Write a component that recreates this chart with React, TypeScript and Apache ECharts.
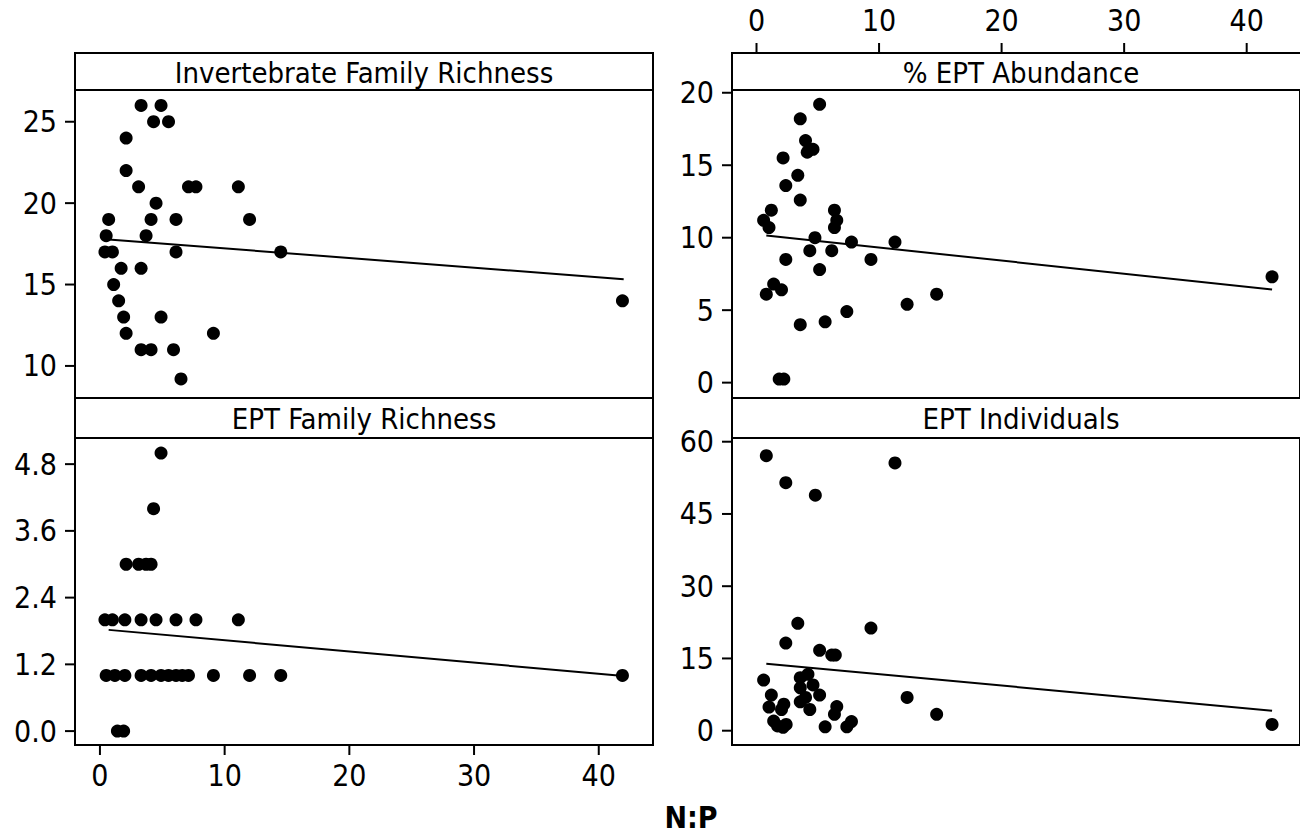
import React, { useEffect, useRef } from "react";
import * as echarts from "echarts";

// N:P ratio ticks shared by all four panels
const npTicks = [0, 10, 20, 30, 40];

// Invertebrate Family Richness
const richnessX = [3.3, 4.9, 4.3, 5.5, 2.1, 2.1, 3.1, 7.1, 7.7, 11.1, 4.5, 0.7, 4.1, 6.1, 12.0, 0.5, 3.7, 0.4, 1.0, 6.1, 14.5, 1.7, 3.3, 1.1, 1.5, 41.9, 1.9, 4.9, 2.1, 9.1, 3.3, 4.1, 5.9, 6.5];
const richnessY = [26, 26, 25, 25, 24, 22, 21, 21, 21, 21, 20, 19, 19, 19, 19, 18, 18, 17, 17, 17, 17, 16, 16, 15, 14, 14, 13, 13, 12, 12, 11, 11, 11, 9.2];
const richnessFitX = [0.7, 42.0];
const richnessFitY = [17.77, 15.33];
const richnessTicks = [10, 15, 20, 25];

// % EPT Abundance
const abundanceX = [5.15, 3.57, 4.0, 4.61, 4.14, 2.17, 3.37, 2.39, 3.57, 1.21, 6.36, 0.58, 6.55, 1.02, 6.36, 4.77, 7.75, 11.3, 4.35, 6.14, 2.39, 9.34, 5.15, 42.07, 1.4, 2.04, 0.8, 14.7, 12.29, 7.37, 5.6, 3.57, 1.85, 2.23];
const abundanceY = [19.2, 18.2, 16.7, 16.1, 15.9, 15.5, 14.3, 13.6, 12.6, 11.9, 11.9, 11.2, 11.2, 10.7, 10.7, 10.0, 9.7, 9.7, 9.1, 9.1, 8.5, 8.5, 7.8, 7.3, 6.8, 6.4, 6.1, 6.1, 5.4, 4.9, 4.2, 4.0, 0.25, 0.25];
const abundanceFitX = [0.8, 42.07];
const abundanceFitY = [10.15, 6.43];
const abundanceTicks = [0, 5, 10, 15, 20];

// EPT Family Richness
const eptRichnessX = [4.9, 4.3, 2.1, 3.1, 3.7, 4.1, 0.4, 1.0, 2.0, 3.3, 4.5, 6.1, 7.7, 11.1, 0.5, 1.2, 2.0, 3.3, 4.1, 4.9, 5.5, 6.1, 6.6, 7.1, 9.1, 12.0, 14.5, 41.9, 1.4, 1.9];
const eptRichnessY = [5, 4, 3, 3, 3, 3, 2, 2, 2, 2, 2, 2, 2, 2, 1, 1, 1, 1, 1, 1, 1, 1, 1, 1, 1, 1, 1, 1, 0, 0];
const eptRichnessFitX = [0.7, 42.0];
const eptRichnessFitY = [1.82, 0.99];
const eptRichnessTicks = [0, 1.2, 2.4, 3.6, 4.8];

// EPT Individuals
const individualsX = [0.8, 11.3, 2.39, 4.8, 3.37, 9.34, 2.39, 5.15, 6.14, 6.43, 0.58, 4.2, 3.57, 4.61, 3.57, 1.21, 5.15, 4.0, 12.29, 3.57, 2.23, 1.02, 6.55, 2.04, 4.35, 6.36, 14.7, 1.4, 7.75, 2.42, 1.72, 2.17, 5.6, 7.37, 42.07];
const individualsY = [57.1, 55.6, 51.5, 48.9, 22.3, 21.3, 18.2, 16.7, 15.7, 15.7, 10.5, 11.7, 11.0, 9.5, 8.9, 7.4, 7.4, 6.9, 6.9, 6.0, 5.5, 4.9, 5.0, 4.4, 4.4, 3.4, 3.4, 2.0, 1.9, 1.3, 1.0, 0.7, 0.8, 0.8, 1.3];
const individualsFitX = [0.8, 42.07];
const individualsFitY = [13.9, 4.15];
const individualsTicks = [0, 15, 30, 45, 60];

const FONT = '"DejaVu Sans Condensed", "DejaVu Sans", sans-serif';
const X_MIN = -2;
const X_MAX = 44.35;
const TICK_LEN = 10;

type Panel = {
  title: string;
  xs: number[];
  ys: number[];
  fitX: number[];
  fitY: number[];
  ticks: number[];
  yMin: number;
  yMax: number;
  left: number;
  top: number;
  height: number;
  stripTop: number;
  xAxisPos: "top" | "bottom" | "none";
  decimals: number;
};

const PANEL_W = 578;

const panels: Panel[] = [
  { title: "Invertebrate Family Richness", xs: richnessX, ys: richnessY, fitX: richnessFitX, fitY: richnessFitY, ticks: richnessTicks, yMin: 8.03, yMax: 26.95, left: 75, top: 90, height: 308, stripTop: 53, xAxisPos: "none", decimals: 0 },
  { title: "% EPT Abundance", xs: abundanceX, ys: abundanceY, fitX: abundanceFitX, fitY: abundanceFitY, ticks: abundanceTicks, yMin: -1.06, yMax: 20.19, left: 732, top: 90, height: 308, stripTop: 53, xAxisPos: "top", decimals: 0 },
  { title: "EPT Family Richness", xs: eptRichnessX, ys: eptRichnessY, fitX: eptRichnessFitX, fitY: eptRichnessFitY, ticks: eptRichnessTicks, yMin: -0.25, yMax: 5.27, left: 75, top: 438, height: 307, stripTop: 398, xAxisPos: "bottom", decimals: 1 },
  { title: "EPT Individuals", xs: individualsX, ys: individualsY, fitX: individualsFitX, fitY: individualsFitY, ticks: individualsTicks, yMin: -2.97, yMax: 60.77, left: 732, top: 438, height: 307, stripTop: 398, xAxisPos: "none", decimals: 0 },
];

function buildOption() {
  const grid: any[] = [];
  const xAxis: any[] = [];
  const yAxis: any[] = [];
  const series: any[] = [];
  const graphic: any[] = [];

  panels.forEach((p, i) => {
    const stripH = p.top - p.stripTop;
    grid.push({
      left: p.left,
      top: p.top,
      width: PANEL_W,
      height: p.height,
      show: true,
      borderColor: "#000",
      borderWidth: 2,
      backgroundColor: "transparent",
    });
    const showX = p.xAxisPos !== "none";
    xAxis.push({
      type: "value",
      gridIndex: i,
      min: X_MIN,
      max: X_MAX,
      position: p.xAxisPos === "top" ? "top" : "bottom",
      offset: p.xAxisPos === "top" ? stripH : 0,
      axisLine: { show: false },
      splitLine: { show: false },
      axisTick: { show: false },
      axisLabel: {
        show: showX,
        customValues: npTicks,
        color: "#000",
        fontFamily: FONT,
        fontSize: 30,
        margin: p.xAxisPos === "top" ? 18 : 15,
      },
    });
    yAxis.push({
      type: "value",
      gridIndex: i,
      min: p.yMin,
      max: p.yMax,
      position: "left",
      axisLine: { show: false },
      splitLine: { show: false },
      axisTick: { show: false },
      axisLabel: {
        customValues: p.ticks,
        color: "#000",
        fontFamily: FONT,
        fontSize: 30,
        margin: 18,
        formatter: (v: number) => v.toFixed(p.decimals),
      },
    });

    // outward y ticks on the left edge of the panel
    series.push({
      type: "custom",
      xAxisIndex: i,
      yAxisIndex: i,
      silent: true,
      clip: false,
      data: p.ticks.map((v) => [X_MIN, v]),
      renderItem: (_params: any, api: any) => {
        const pt = api.coord([api.value(0), api.value(1)]);
        return {
          type: "line",
          shape: { x1: pt[0] - TICK_LEN, y1: pt[1], x2: pt[0], y2: pt[1] },
          style: { stroke: "#000", lineWidth: 2 },
        };
      },
    });

    // outward x ticks (above the strip or below the panel)
    if (showX) {
      const atTop = p.xAxisPos === "top";
      series.push({
        type: "custom",
        xAxisIndex: i,
        yAxisIndex: i,
        silent: true,
        clip: false,
        data: npTicks.map((v) => [v, atTop ? p.yMax : p.yMin]),
        renderItem: (_params: any, api: any) => {
          const pt = api.coord([api.value(0), api.value(1)]);
          const y0 = atTop ? pt[1] - stripH : pt[1];
          const y1 = atTop ? y0 - TICK_LEN : y0 + TICK_LEN;
          return {
            type: "line",
            shape: { x1: pt[0], y1: y0, x2: pt[0], y2: y1 },
            style: { stroke: "#000", lineWidth: 2 },
          };
        },
      });
    }

    series.push({
      type: "scatter",
      xAxisIndex: i,
      yAxisIndex: i,
      symbol: "circle",
      symbolSize: 13,
      itemStyle: { color: "#000", opacity: 1 },
      data: p.xs.map((x, k) => [x, p.ys[k]]),
      z: 3,
    });
    series.push({
      type: "line",
      xAxisIndex: i,
      yAxisIndex: i,
      symbol: "none",
      lineStyle: { color: "#000", width: 2 },
      data: p.fitX.map((x, k) => [x, p.fitY[k]]),
      z: 2,
    });
    graphic.push({
      type: "rect",
      shape: { x: p.left, y: p.stripTop, width: PANEL_W, height: stripH },
      style: { fill: "#fff", stroke: "#000", lineWidth: 2 },
      z: 10,
    });
    graphic.push({
      type: "text",
      x: p.left + PANEL_W / 2,
      y: (p.stripTop + p.top) / 2 + 1,
      style: {
        text: p.title,
        fill: "#000",
        font: `29px ${FONT}`,
        align: "center",
        verticalAlign: "middle",
        textAlign: "center",
        textVerticalAlign: "middle",
      },
      z: 11,
    });
  });

  graphic.push({
    type: "text",
    x: 691,
    y: 817,
    style: {
      text: "N:P",
      fill: "#000",
      font: `bold 30px ${FONT}`,
      align: "center",
      verticalAlign: "middle",
      textAlign: "center",
      textVerticalAlign: "middle",
    },
    z: 11,
  });

  return {
    animation: false,
    backgroundColor: "#fff",
    grid,
    xAxis,
    yAxis,
    series,
    graphic,
  };
}

export default function App() {
  const ref = useRef<HTMLDivElement>(null);
  useEffect(() => {
    if (!ref.current) return;
    const chart = echarts.init(ref.current, undefined, { renderer: "svg" });
    chart.setOption(buildOption() as any);
    return () => chart.dispose();
  }, []);
  return (
    <div
      ref={ref}
      style={{ position: "absolute", left: 0, top: 0, width: 1300, height: 835, background: "#fff" }}
    />
  );
}
